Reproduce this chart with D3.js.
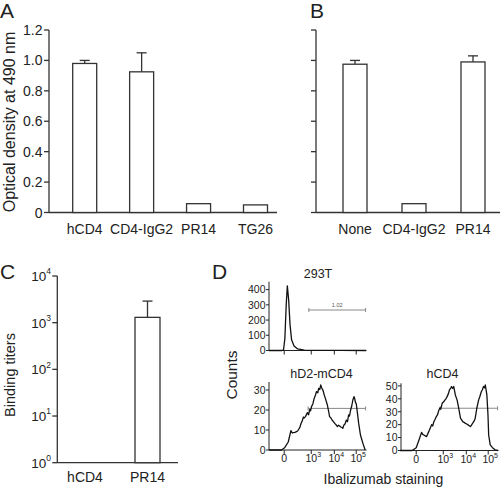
<!DOCTYPE html>
<html><head><meta charset="utf-8">
<script src="https://cdn.jsdelivr.net/npm/d3@7"></script>
<style>
body{margin:0;background:#fff}
svg{display:block}
text{font-family:"Liberation Sans",Arial,sans-serif;fill:#222}
</style>
</head><body><svg id="c" width="500" height="488"></svg>
<script>
// ---------- DATA ----------
const catsA = ["hCD4", "CD4-IgG2", "PR14", "TG26"];
const valsA = [0.98, 0.925, 0.058, 0.05];
const errTopA = [1.0, 1.05, null, null];

const catsB = ["None", "CD4-IgG2", "PR14"];
const valsB = [0.975, 0.058, 0.99];
const errTopB = [1.0, null, 1.03];

const ticksAB = [0, 0.2, 0.4, 0.6, 0.8, 1.0, 1.2];
const tickLabelsA = ["0", "0.2", "0.4", "0.6", "0.8", "1.0", "1.2"];

const catsC = ["hCD4", "PR14"];
const valsC = [1, 1300];
const errTopC = [null, 2900];
const expTicksC = [0, 1, 2, 3, 4];

// Flow histograms: [display position in decades, counts]
const hist293T = [[-0.68,0],[-0.1,0],[-0.03,5],[0.03,80],[0.09,300],[0.14,425],[0.2,330],[0.26,170],[0.33,70],[0.44,30],[0.6,10],[0.9,3],[1.5,1],[2.5,0.5],[3.66,0]];
const histD2 = [[-0.68,0],[-0.12,0],[0.03,1.3],[0.18,4],[0.30,9.7],[0.36,8.5],[0.40,8.7],[0.48,8.8],[0.55,9.2],[0.60,9.5],[0.70,11.3],[0.76,13.5],[0.80,14.3],[0.86,16.5],[0.89,16],[0.95,16.7],[1.0,17.8],[1.04,18.7],[1.09,17.6],[1.14,20.3],[1.18,19.6],[1.22,21.7],[1.28,23],[1.34,25.8],[1.40,27.5],[1.44,29.2],[1.50,28.6],[1.54,30.8],[1.59,30.2],[1.63,32.5],[1.68,31],[1.74,29.7],[1.79,27.5],[1.84,25.8],[1.93,22.5],[2.0,18.5],[2.03,16.7],[2.09,16],[2.14,15],[2.20,14.2],[2.26,13.3],[2.32,12.6],[2.38,11.7],[2.43,12.4],[2.48,12],[2.53,11.5],[2.58,11.3],[2.62,10.8],[2.67,12.5],[2.72,13],[2.78,15],[2.83,14.2],[2.88,17.5],[2.92,17],[2.97,20],[3.02,22],[3.07,25],[3.12,26.7],[3.15,25.8],[3.19,23.6],[3.22,23.3],[3.28,18],[3.33,13.3],[3.41,7.5],[3.52,3.3],[3.62,0]];
const histCD4 = [[-0.72,0],[-0.18,0],[0,2.2],[0.12,8],[0.24,14],[0.29,12.5],[0.34,12],[0.46,10.7],[0.57,15],[0.63,17.5],[0.69,20],[0.74,19],[0.79,22.3],[0.84,24],[0.89,26],[0.95,27.5],[1.01,31],[1.06,33],[1.10,32],[1.16,36.5],[1.22,37.5],[1.28,39],[1.33,40],[1.38,41.7],[1.44,44],[1.49,47],[1.55,48.5],[1.58,49.5],[1.63,48],[1.68,49.5],[1.75,43],[1.83,39],[1.90,32.7],[1.98,25],[2.04,23.5],[2.08,22.3],[2.14,21.8],[2.20,21],[2.26,20.5],[2.32,19.8],[2.37,19.2],[2.42,18.5],[2.47,19.5],[2.52,21],[2.58,22.5],[2.64,25],[2.71,32.7],[2.79,39],[2.85,42],[2.91,45.5],[2.96,47],[3.01,49.5],[3.06,48.5],[3.09,50.7],[3.16,43],[3.21,27.5],[3.24,12],[3.31,4.3],[3.41,2.2],[3.53,0.5],[3.66,0]];

const dTickPos = [0, 1.21, 2.24, 3.22];
const dTickExp = [null, 3, 4, 5];
const ticks293T = [0, 100, 200, 300, 400];
const ticksD2 = [0, 10, 20, 30];
const ticksCD4 = [0, 10, 20, 30, 40, 50];
const gate293T = {from: 1.1, to: 3.64, level: 266, label: "1.02"};
const gateD2 = {from: 1.07, to: 3.64, level: 20.8, label: ""};
const gateCD4 = {from: 1.08, to: 3.64, level: 32.7, label: ""};

// ---------- DRAW ----------
const svg = d3.select("#c");
const INK = "#333";
const SW = 1.3;
const FS = 14;

function panelLabel(t, x, y) {
  svg.append("text").attr("x", x).attr("y", y).attr("font-size", 21).text(t);
}

function barPanel(opts) {
  const g = svg.append("g");
  const y = d3.scaleLinear().domain([0, 1.2]).range([212.5, 30]);
  const x = d3.scalePoint().domain(opts.cats).range(opts.xr);
  g.append("line").attr("x1", opts.ax).attr("x2", opts.ax).attr("y1", y(1.2)).attr("y2", y(0)).attr("stroke", INK).attr("stroke-width", SW);
  g.append("line").attr("x1", opts.ax).attr("x2", opts.axEnd).attr("y1", y(0)).attr("y2", y(0)).attr("stroke", INK).attr("stroke-width", SW);
  ticksAB.forEach((t, i) => {
    g.append("line").attr("x1", opts.ax - 5).attr("x2", opts.ax).attr("y1", y(t)).attr("y2", y(t)).attr("stroke", INK).attr("stroke-width", SW);
    if (opts.labels) g.append("text").attr("x", opts.ax - 6.5).attr("y", y(t)).attr("dy", "0.36em").attr("text-anchor", "end").attr("font-size", 14).text(tickLabelsA[i]);
  });
  opts.cats.forEach((c, i) => {
    const cx = x(c), bw = 24;
    if (opts.err[i] != null) {
      g.append("line").attr("x1", cx).attr("x2", cx).attr("y1", y(opts.vals[i])).attr("y2", y(opts.err[i])).attr("stroke", INK).attr("stroke-width", SW);
      g.append("line").attr("x1", cx - 5).attr("x2", cx + 5).attr("y1", y(opts.err[i])).attr("y2", y(opts.err[i])).attr("stroke", INK).attr("stroke-width", SW);
    }
    g.append("rect").attr("x", cx - bw / 2).attr("width", bw).attr("y", y(opts.vals[i])).attr("height", y(0) - y(opts.vals[i]))
      .attr("fill", "#fff").attr("stroke", INK).attr("stroke-width", SW);
    g.append("text").attr("x", cx).attr("y", 233.5).attr("text-anchor", "middle").attr("font-size", FS).text(c);
  });
}

panelLabel("A", 0, 17.5);
barPanel({cats: catsA, vals: valsA, err: errTopA, xr: [84.7, 255.5], ax: 49, axEnd: 277, labels: true});
svg.append("text").attr("transform", "translate(14.5,122) rotate(-90)").attr("text-anchor", "middle").attr("font-size", 16).text("Optical density at 490 nm");

panelLabel("B", 310, 17.5);
barPanel({cats: catsB, vals: valsB, err: errTopB, xr: [355, 473], ax: 316, axEnd: 500, labels: false});

// Panel C
panelLabel("C", 0, 278.5);
(function () {
  const g = svg.append("g");
  const y = d3.scaleLog().domain([1, 1e4]).range([462.7, 276]);
  const x = d3.scalePoint().domain(catsC).range([85, 147.5]);
  const ax = 57.3;
  g.append("line").attr("x1", ax).attr("x2", ax).attr("y1", y(1e4)).attr("y2", y(1)).attr("stroke", INK).attr("stroke-width", SW);
  g.append("line").attr("x1", ax).attr("x2", 178).attr("y1", y(1)).attr("y2", y(1)).attr("stroke", INK).attr("stroke-width", SW);
  expTicksC.forEach(e => {
    const v = Math.pow(10, e);
    g.append("line").attr("x1", ax - 5).attr("x2", ax).attr("y1", y(v)).attr("y2", y(v)).attr("stroke", INK).attr("stroke-width", SW);
    const t = g.append("text").attr("x", 51).attr("y", y(v)).attr("dy", "0.38em").attr("text-anchor", "end").attr("font-size", 13.5);
    t.append("tspan").text("10");
    t.append("tspan").attr("font-size", 8.5).attr("dy", "-0.8em").text(e);
  });
  catsC.forEach((c, i) => {
    const cx = x(c), bw = 25;
    if (errTopC[i] != null) {
      g.append("line").attr("x1", cx).attr("x2", cx).attr("y1", y(valsC[i])).attr("y2", y(errTopC[i])).attr("stroke", INK).attr("stroke-width", SW);
      g.append("line").attr("x1", cx - 5).attr("x2", cx + 5).attr("y1", y(errTopC[i])).attr("y2", y(errTopC[i])).attr("stroke", INK).attr("stroke-width", SW);
    }
    if (valsC[i] > 1) {
      g.append("rect").attr("x", cx - bw / 2).attr("width", bw).attr("y", y(valsC[i])).attr("height", y(1) - y(valsC[i]))
        .attr("fill", "#fff").attr("stroke", INK).attr("stroke-width", SW);
    }
    g.append("text").attr("x", cx).attr("y", 481.5).attr("text-anchor", "middle").attr("font-size", FS).text(c);
  });
  svg.append("text").attr("transform", "translate(15,375) rotate(-90)").attr("text-anchor", "middle").attr("font-size", 14.5).text("Binding titers");
})();

// Panel D
panelLabel("D", 212, 278.5);
function flowPlot(o) {
  const g = svg.append("g");
  const x = d3.scaleLinear().domain([-0.68, 3.68]).range([o.x0, o.x0 + 97.5]);
  const y = d3.scaleLinear().domain([0, o.ymax]).range([o.yb, o.yt]);
  const lw = 1;
  g.append("line").attr("x1", o.x0).attr("x2", o.x0).attr("y1", o.yt).attr("y2", o.yb).attr("stroke", "#222").attr("stroke-width", lw);
  g.append("line").attr("x1", o.x0).attr("x2", o.x0 + 97.5).attr("y1", o.yb).attr("y2", o.yb).attr("stroke", "#222").attr("stroke-width", lw);
  o.yticks.forEach(t => {
    g.append("line").attr("x1", o.x0 - 3).attr("x2", o.x0).attr("y1", y(t)).attr("y2", y(t)).attr("stroke", "#222").attr("stroke-width", lw);
    g.append("text").attr("x", o.x0 - 3.5).attr("y", y(t)).attr("dy", "0.36em").attr("text-anchor", "end").attr("font-size", 10.5).text(t);
  });
  dTickPos.forEach((p, i) => {
    g.append("line").attr("x1", x(p)).attr("x2", x(p)).attr("y1", o.yb).attr("y2", o.yb + 4).attr("stroke", "#222").attr("stroke-width", lw);
    if (o.xlabels) {
      const t = g.append("text").attr("y", o.yb + 12).attr("font-size", 10.5).attr("text-anchor", "middle");
      if (dTickExp[i] == null) { t.attr("x", x(p)).text("0"); }
      else {
        t.attr("x", x(p) + 2);
        t.append("tspan").text("10");
        t.append("tspan").attr("font-size", 7).attr("dy", "-0.7em").text(dTickExp[i]);
      }
    }
  });
  const gy = y(o.gate.level);
  g.append("line").attr("x1", x(o.gate.from)).attr("x2", x(o.gate.to)).attr("y1", gy).attr("y2", gy).attr("stroke", "#888").attr("stroke-width", 1);
  [o.gate.from, o.gate.to].forEach(p => g.append("line").attr("x1", x(p)).attr("x2", x(p)).attr("y1", gy - 2).attr("y2", gy + 2).attr("stroke", "#888").attr("stroke-width", 1));
  if (o.gate.label) g.append("text").attr("x", x((o.gate.from + o.gate.to) / 2)).attr("y", gy - 3).attr("text-anchor", "middle").attr("font-size", 5.5).style("fill", "#555").text(o.gate.label);
  g.append("path").datum(o.data).attr("d", d3.line().x(d => x(d[0])).y(d => y(d[1])))
    .attr("fill", "none").attr("stroke", "#111").attr("stroke-width", 1.3).attr("stroke-linejoin", "round");
  g.append("text").attr("x", o.tx).attr("y", o.ty).attr("text-anchor", "middle").attr("font-size", 12.5).text(o.title);
}
flowPlot({x0: 269, yb: 350.5, yt: 281.7, ymax: 452, yticks: ticks293T, data: hist293T, gate: gate293T, xlabels: false, title: "293T", tx: 318, ty: 278});
flowPlot({x0: 269, yb: 450, yt: 382, ymax: 34, yticks: ticksD2, data: histD2, gate: gateD2, xlabels: true, title: "hD2-mCD4", tx: 321.5, ty: 378});
flowPlot({x0: 401, yb: 450.5, yt: 383.3, ymax: 52, yticks: ticksCD4, data: histCD4, gate: gateCD4, xlabels: true, title: "hCD4", tx: 442.5, ty: 378});
svg.append("text").attr("transform", "translate(236.5,375) rotate(-90)").attr("text-anchor", "middle").attr("font-size", 15.5).text("Counts");
svg.append("text").attr("x", 383.5).attr("y", 483.5).attr("text-anchor", "middle").attr("font-size", 14).text("Ibalizumab staining");
</script>
</body></html>
